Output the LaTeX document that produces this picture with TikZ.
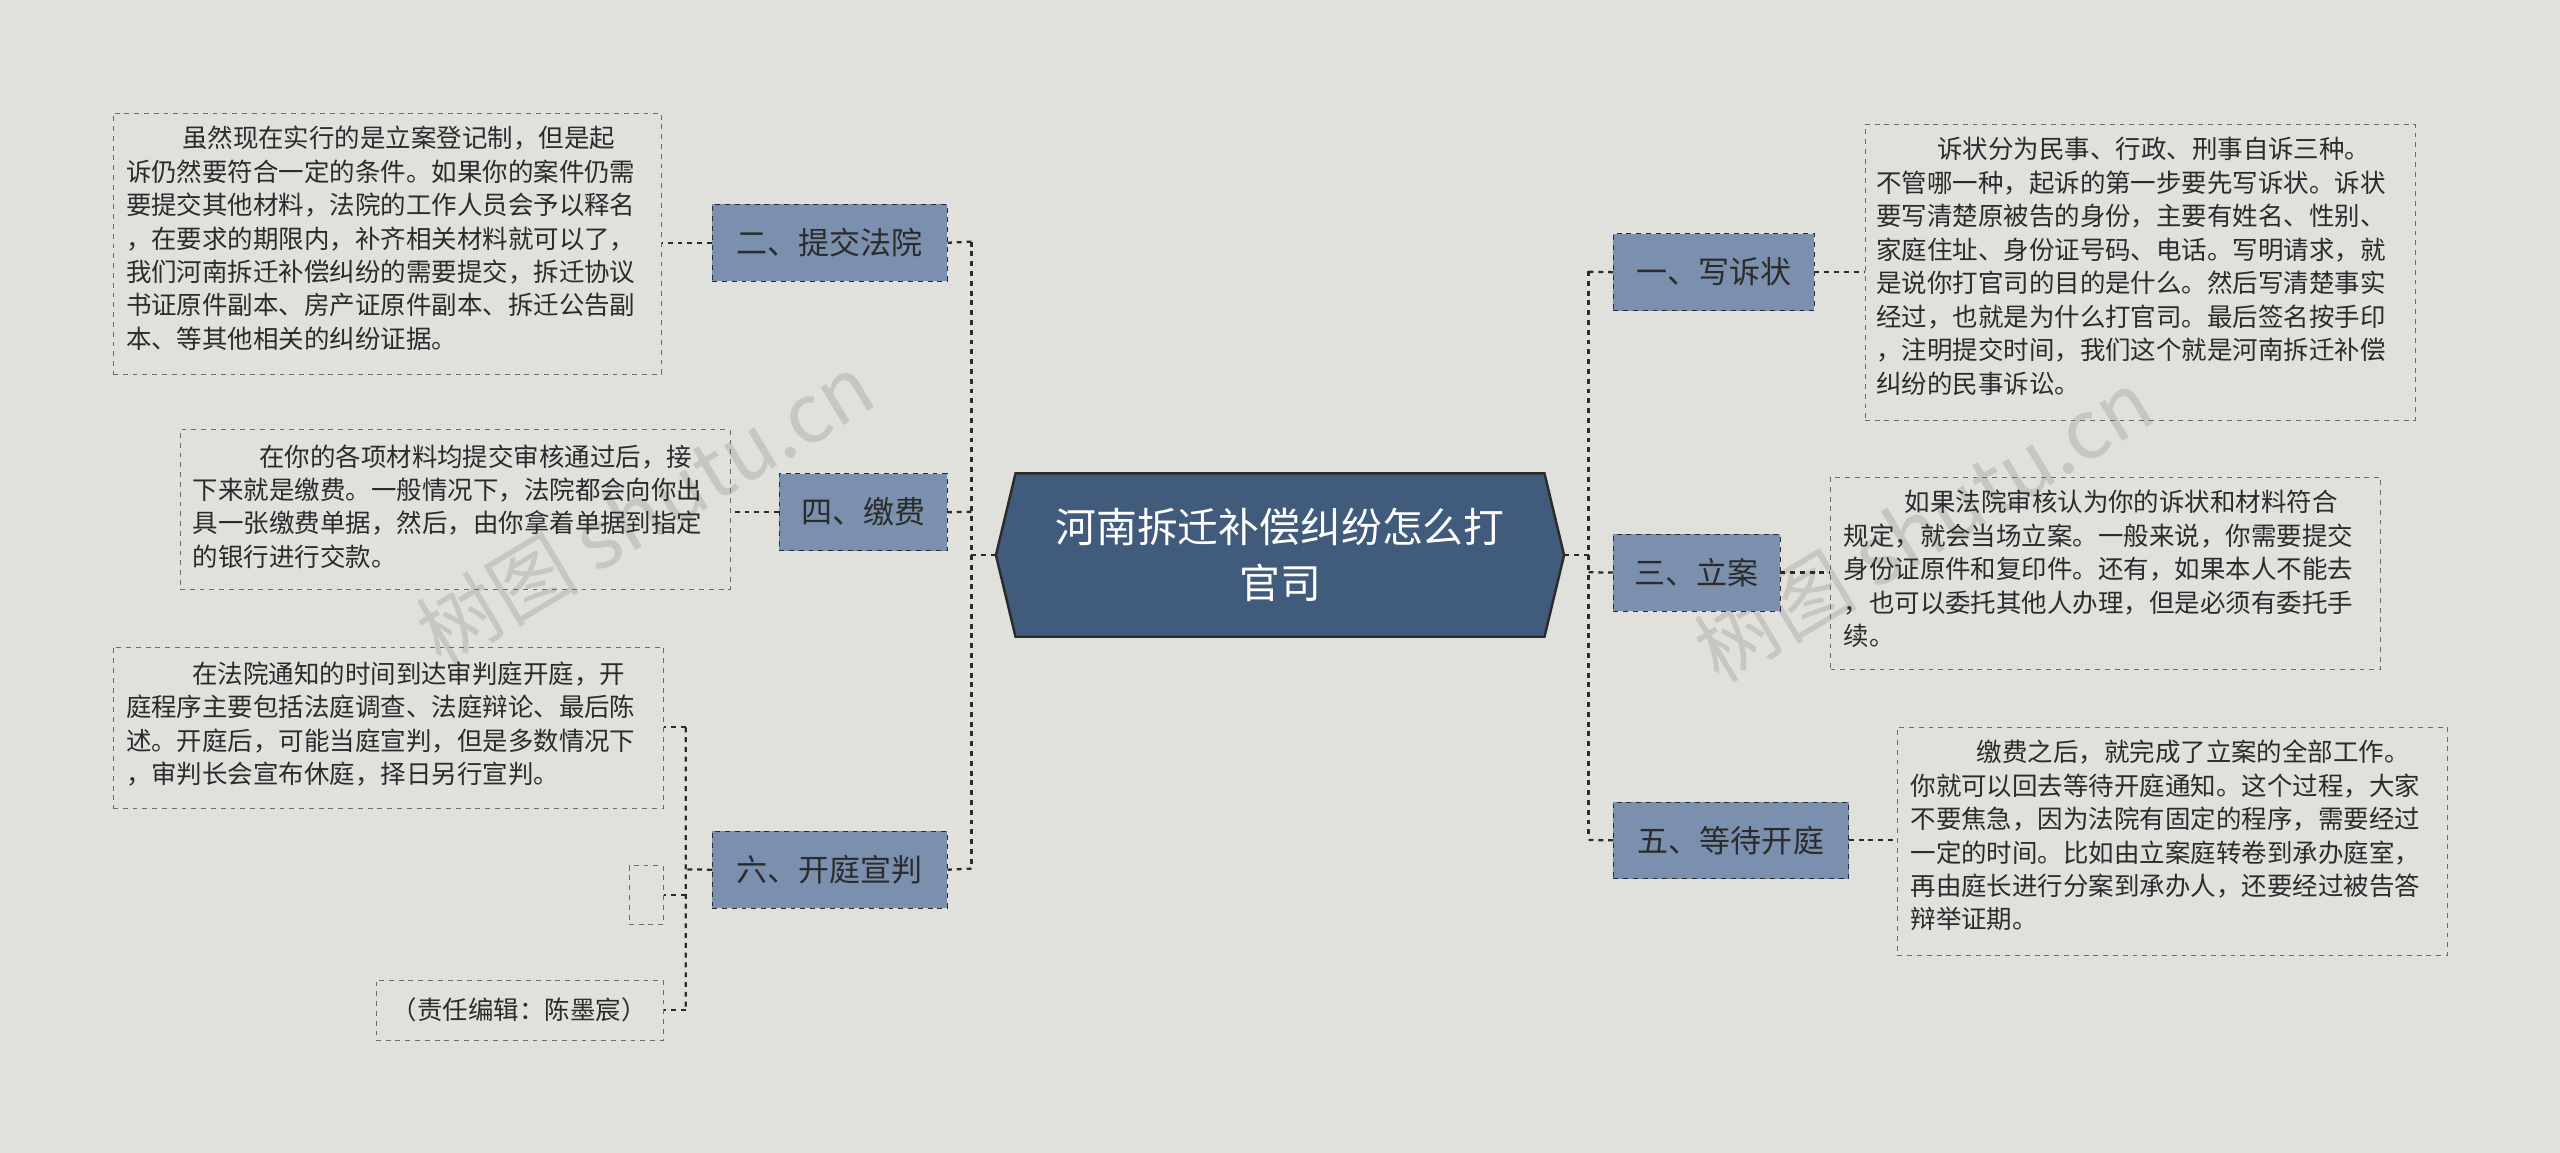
\documentclass[tikz,border=0pt]{standalone}
\usepackage{fontspec}
\setmainfont{Noto Sans CJK SC}
\usetikzlibrary{shapes.misc}
\definecolor{bg}{HTML}{E0E1DD}
\definecolor{cfill}{HTML}{405B7B}
\definecolor{bfill}{HTML}{7B90AE}
\definecolor{ink}{HTML}{2B2B2B}
\definecolor{wm}{HTML}{C6C7C3}
\tikzset{
 branch/.style={draw=ink,dashed,fill=bfill,text=ink,font=\fontsize{19}{22}\selectfont,inner sep=0pt,anchor=north west},
 leaf/.style={draw=ink!70,dashed,inner sep=0pt,anchor=north west},
 ltext/.style={anchor=north west,align=left,text=ink,font=\fontsize{15.6}{20.5}\selectfont,inner sep=0pt},
 con/.style={draw=ink,dashed,line width=1.4pt}
}
\begin{document}
\begin{tikzpicture}[x=1pt,y=-1pt]
\fill[bg] (0,0) rectangle (1568,706);
\useasboundingbox (0,0) rectangle (1568,706);
% watermarks
\node[text=wm,rotate=31,font=\fontsize{50}{52}\selectfont] at (395,312) {树图 shutu.cn};
\node[text=wm,rotate=31,font=\fontsize{50}{52}\selectfont] at (1178,322) {树图 shutu.cn};
% center
\draw[fill=cfill,draw=ink,line width=1.5pt] (610,340) -- (622,290) -- (946,290) -- (958,340) -- (946,390) -- (622,390) -- cycle;
\node[text=white,align=center,font=\fontsize{25}{34}\selectfont] (c) at (784,340) {河南拆迁补偿纠纷怎么打\\官司};
\coordinate (cl) at (610,340); \coordinate (cr) at (958,340);
% branches
\node[branch,minimum width=144,minimum height=47] (b2) at (436,125) {二、提交法院};
\node[branch,minimum width=103,minimum height=47] (b4) at (477,290) {四、缴费};
\node[branch,minimum width=144,minimum height=47] (b6) at (436,509) {六、开庭宣判};
\node[branch,minimum width=123,minimum height=47] (b1) at (988,143) {一、写诉状};
\node[branch,minimum width=102,minimum height=47] (b3) at (988,327) {三、立案};
\node[branch,minimum width=144,minimum height=47] (b5) at (988,491) {五、等待开庭};
% leaves
\node[leaf,minimum width=336,minimum height=160] (l1) at (69,69) {};
\node[ltext] at (77,77) {\hspace{2.2em}虽然现在实行的是立案登记制，但是起\\诉仍然要符合一定的条件。如果你的案件仍需\\要提交其他材料，法院的工作人员会予以释名\\，在要求的期限内，补齐相关材料就可以了，\\我们河南拆迁补偿纠纷的需要提交，拆迁协议\\书证原件副本、房产证原件副本、拆迁公告副\\本、等其他相关的纠纷证据。};
\node[leaf,minimum width=337,minimum height=98] (l2) at (110,263) {};
\node[ltext] at (118,272) {\hspace{2.6em}在你的各项材料均提交审核通过后，接\\下来就是缴费。一般情况下，法院都会向你出\\具一张缴费单据，然后，由你拿着单据到指定\\的银行进行交款。};
\node[leaf,minimum width=337,minimum height=99] (l3) at (69,396) {};
\node[ltext] at (77,405) {\hspace{2.6em}在法院通知的时间到达审判庭开庭，开\\庭程序主要包括法庭调查、法庭辩论、最后陈\\述。开庭后，可能当庭宣判，但是多数情况下\\，审判长会宣布休庭，择日另行宣判。};
\node[leaf,minimum width=21,minimum height=36] (l4) at (385,530) {};
\node[leaf,minimum width=176,minimum height=37] (l5) at (230,600) {};
\node[text=ink,font=\fontsize{15.6}{20.5}\selectfont] at (318,618.5) {（责任编辑：陈墨宸）};
\node[leaf,minimum width=337,minimum height=181] (r1) at (1142,76) {};
\node[ltext] at (1149,84) {\hspace{2.4em}诉状分为民事、行政、刑事自诉三种。\\不管哪一种，起诉的第一步要先写诉状。诉状\\要写清楚原被告的身份，主要有姓名、性别、\\家庭住址、身份证号码、电话。写明请求，就\\是说你打官司的目的是什么。然后写清楚事实\\经过，也就是为什么打官司。最后签名按手印\\，注明提交时间，我们这个就是河南拆迁补偿\\纠纷的民事诉讼。};
\node[leaf,minimum width=337,minimum height=118] (r2) at (1121,292) {};
\node[ltext] at (1129,300) {\hspace{2.4em}如果法院审核认为你的诉状和材料符合\\规定，就会当场立案。一般来说，你需要提交\\身份证原件和复印件。还有，如果本人不能去\\，也可以委托其他人办理，但是必须有委托手\\续。};
\node[leaf,minimum width=337,minimum height=140] (r3) at (1162,445) {};
\node[ltext] at (1170,453) {\hspace{2.6em}缴费之后，就完成了立案的全部工作。\\你就可以回去等待开庭通知。这个过程，大家\\不要焦急，因为法院有固定的程序，需要经过\\一定的时间。比如由立案庭转卷到承办庭室，\\再由庭长进行分案到承办人，还要经过被告答\\辩举证期。};
% connectors center-branch
\draw[con] (cl) -- (595,340) (595,148) -- (595,532);
\draw[con] (595,148) -- (b2.east); \draw[con] (595,313.5) -- (b4.east); \draw[con] (595,532) -- (b6.east);
\draw[con] (cr) -- (973,340) (973,166) -- (973,514);
\draw[con] (973,166.5) -- (b1.west); \draw[con] (973,350.5) -- (b3.west); \draw[con] (973,514.5) -- (b5.west);
% branch-leaf
\draw[con] (b2.west) -- (l1.east |- b2.west);
\draw[con] (b4.west) -- (l2.east |- b4.west);
\draw[con] (b1.east) -- (r1.west |- b1.east);
\draw[con] (b3.east) -- (r2.west |- b3.east);
\draw[con] (b5.east) -- (r3.west |- b5.east);
\draw[con] (b6.west) -- (420,532.5) (420,445.5) -- (420,618.5);
\draw[con] (420,445.5) -- (l3.east |- 0,445.5);
\draw[con] (420,548) -- (l4.east |- 0,548);
\draw[con] (420,618.5) -- (l5.east |- 0,618.5);
\end{tikzpicture}
\end{document}
